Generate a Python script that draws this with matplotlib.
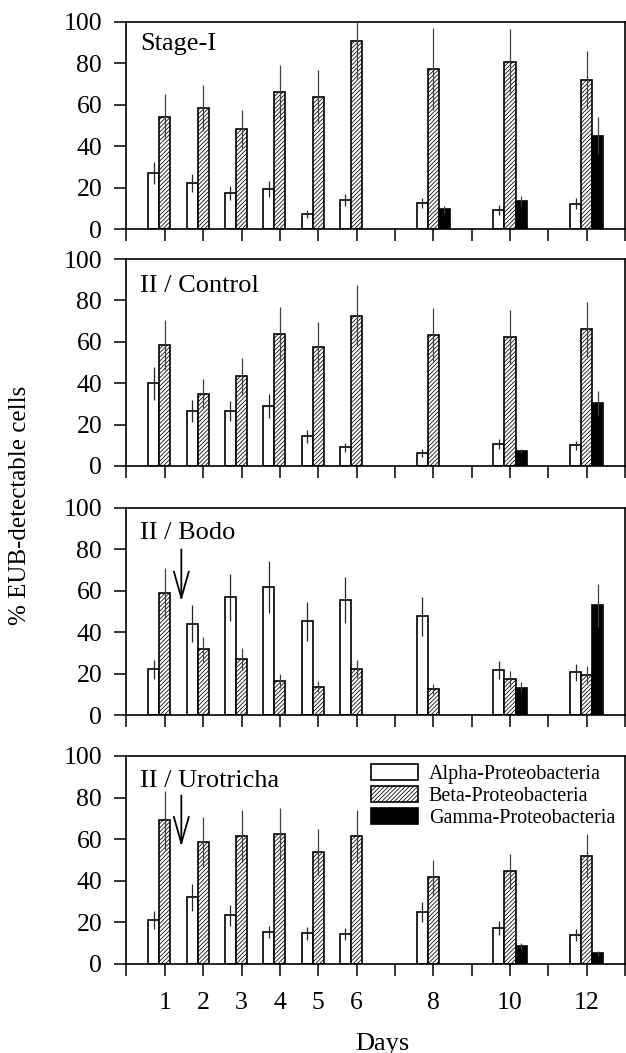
import numpy as np
import matplotlib
matplotlib.use("Agg")
import matplotlib.pyplot as plt

plt.rcParams["font.family"] = ["Liberation Serif", "DejaVu Serif"]
plt.rcParams["hatch.linewidth"] = 0.55

days = [1, 2, 3, 4, 5, 6, 8, 10, 12]
tick_days = list(range(0, 14))
tick_labels = ["", "1", "2", "3", "4", "5", "6", "", "8", "", "10", "", "12", ""]

panel_names = ["Stage-I", "II / Control", "II / Bodo", "II / Urotricha"]
group_names = ["Alpha-Proteobacteria", "Beta-Proteobacteria", "Gamma-Proteobacteria"]

# Stage-I
s1_alpha = [27, 22.2, 17.4, 19.3, 7.2, 14.1, 12.7, 9.2, 12.3]
s1_alpha_err = [5.5, 4.5, 3.6, 4, 1.8, 3, 2.5, 2.2, 2.6]
s1_beta = [54.2, 58.4, 48.2, 66.1, 64, 90.7, 77.5, 80.8, 72]
s1_beta_err = [10.8, 11.2, 9.4, 13, 12.7, 18, 19.8, 16, 14.2]
s1_gamma = [0, 0, 0, 0, 0, 0, 9.6, 13.5, 45]
s1_gamma_err = [0, 0, 0, 0, 0, 0, 1.7, 2.5, 9]

# II / Control
s2_alpha = [40, 26.5, 26.5, 29, 14.3, 9, 6.3, 10.5, 10]
s2_alpha_err = [8, 5.3, 4.8, 6, 3, 2.3, 2.1, 2.4, 2.3]
s2_beta = [58.4, 35, 43.5, 63.7, 57.7, 72.7, 63.5, 62.4, 66]
s2_beta_err = [12, 7, 8.8, 13, 11.7, 14.7, 12.8, 13.2, 13.2]
s2_gamma = [0, 0, 0, 0, 0, 0, 0, 7.1, 30.2]
s2_gamma_err = [0, 0, 0, 0, 0, 0, 0, 1, 6]

# II / Bodo
s3_alpha = [22, 44.2, 56.9, 61.9, 45.3, 55.5, 47.7, 21.7, 20.6]
s3_alpha_err = [4.5, 8.8, 11.3, 12.4, 9.4, 11.2, 9.3, 4.3, 4.2]
s3_beta = [59, 31.7, 27.2, 16.4, 13.7, 22.3, 12.5, 17.4, 19.3]
s3_beta_err = [12, 6.1, 5.3, 3.2, 2.7, 4.5, 2.3, 3.8, 4.2]
s3_gamma = [0, 0, 0, 0, 0, 0, 0, 13.2, 53]
s3_gamma_err = [0, 0, 0, 0, 0, 0, 0, 2.6, 10.5]

# II / Urotricha
s4_alpha = [21.1, 32, 23.5, 15.4, 14.7, 14.4, 24.8, 17.3, 13.9]
s4_alpha_err = [4.2, 6.6, 5, 3, 3.1, 3, 4.8, 3.2, 2.9]
s4_beta = [69, 58.6, 61.6, 62.4, 53.9, 61.6, 41.6, 44.5, 51.8]
s4_beta_err = [14, 12, 12.4, 12.5, 10.9, 12.4, 8.3, 8.6, 10.6]
s4_gamma = [0, 0, 0, 0, 0, 0, 0, 8.6, 5.1]
s4_gamma_err = [0, 0, 0, 0, 0, 0, 0, 1.6, 1.3]

# arrows (day position, start value, tip value) in Bodo and Urotricha panels
arrow_day = 1.43
arrow_from = [None, None, 80, 81]
arrow_to = [None, None, 55, 56.5]

panels = [
    (s1_alpha, s1_alpha_err, s1_beta, s1_beta_err, s1_gamma, s1_gamma_err),
    (s2_alpha, s2_alpha_err, s2_beta, s2_beta_err, s2_gamma, s2_gamma_err),
    (s3_alpha, s3_alpha_err, s3_beta, s3_beta_err, s3_gamma, s3_gamma_err),
    (s4_alpha, s4_alpha_err, s4_beta, s4_beta_err, s4_gamma, s4_gamma_err),
]

W, H = 626, 1053
fig = plt.figure(figsize=(W / 100, H / 100), dpi=100)

# panel top / bottom in pixels
tops = [22, 259, 508, 756]
bots = [229, 466, 715, 964]
left_px, right_px = 126.5, 625
title_y = [0.865, 0.84, 0.85, 0.85]

bw = 0.29
x = np.array(days, dtype=float)

for i, (a, ae, b, be, g, ge) in enumerate(panels):
    ax = fig.add_axes([left_px / W, 1 - bots[i] / H, (right_px - left_px) / W, (bots[i] - tops[i]) / H])
    a = np.array(a); ae = np.array(ae)
    b = np.array(b); be = np.array(be)
    g = np.array(g); ge = np.array(ge)
    gm = g > 0

    ax.bar(x - bw, a, bw, color="white", edgecolor="black", linewidth=1.2, label=group_names[0], zorder=2)
    ax.bar(x, b, bw, color="white", edgecolor="black", hatch="////////", linewidth=1.2, label=group_names[1], zorder=2)
    ax.bar(x[gm] + bw, g[gm], bw, color="black", edgecolor="black", linewidth=1.2, label=group_names[2], zorder=2)

    ax.errorbar(x - bw, a, yerr=ae, fmt="none", ecolor="0.15", elinewidth=0.9, capsize=0, zorder=3)
    ax.errorbar(x, b, yerr=be, fmt="none", ecolor="0.25", elinewidth=0.9, capsize=0, zorder=3)
    ax.errorbar(x[gm] + bw, g[gm], yerr=ge[gm], fmt="none", ecolor="0.25", elinewidth=0.9, capsize=0, zorder=3)

    ax.set_xlim(0, 13)
    ax.set_ylim(0, 100)
    ax.set_yticks([0, 20, 40, 60, 80, 100])
    ax.set_xticks(tick_days)
    ax.tick_params(direction="out", length=8.5, width=1.1, labelsize=18.5, pad=9)
    ax.tick_params(axis="x", pad=12)
    if i == 3:
        ax.set_xticklabels(tick_labels)
    else:
        ax.set_xticklabels([])
    for sp in ax.spines.values():
        sp.set_linewidth(1.2)

    ax.text(0.028, title_y[i], panel_names[i], transform=ax.transAxes, fontsize=19,
            ha="left", va="baseline")

    if arrow_from[i] is not None:
        ax.annotate("", xy=(arrow_day, arrow_to[i]), xytext=(arrow_day, arrow_from[i]),
                    arrowprops=dict(arrowstyle="->,head_length=0.95,head_width=0.27",
                                    lw=1.3, color="black", mutation_scale=20,
                                    shrinkA=0, shrinkB=0))

    if i == 3:
        ax.legend(loc="upper left", bbox_to_anchor=(0.491, 0.96), frameon=False,
                  fontsize=14.5, handlelength=2.3, handleheight=0.85,
                  handletextpad=0.55, labelspacing=0.1, borderpad=0, borderaxespad=0)

fig.text(0.032, 0.52, "% EUB-detectable cells", rotation=90, fontsize=18,
         ha="center", va="center")
fig.text(382 / W, 1 - 1050 / H, "Days", fontsize=19, ha="center", va="baseline")

fig.savefig("out.png", dpi=100)
